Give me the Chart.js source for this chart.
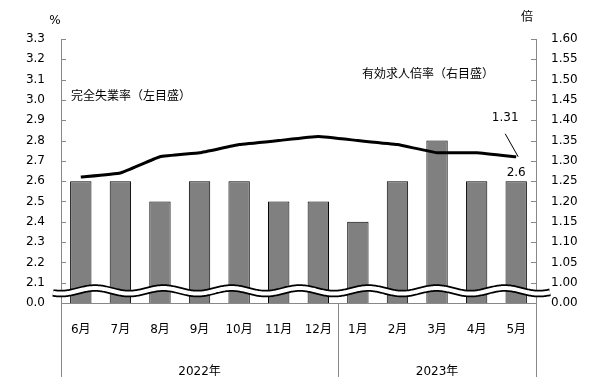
<!DOCTYPE html>
<html>
<head>
<meta charset="utf-8">
<script src="https://cdn.jsdelivr.net/npm/chart.js@4.4.0/dist/chart.umd.min.js"></script>
<style>
  body { margin: 0; background: #fff; }
</style>
</head>
<body>
<canvas id="chart" width="606" height="388"></canvas>
<script>
// data
const months = ['6月', '7月', '8月', '9月', '10月', '11月', '12月', '1月', '2月', '3月', '4月', '5月'];
const yearLabels = ['2022年', '2023年'];
const yearFirstIndex = [0, 7];
const unemployment = [2.6, 2.6, 2.5, 2.6, 2.6, 2.5, 2.5, 2.4, 2.6, 2.8, 2.6, 2.6];
const jobRatio = [1.26, 1.27, 1.31, 1.32, 1.34, 1.35, 1.36, 1.35, 1.34, 1.32, 1.32, 1.31];
// left axis 2.0..3.3 (2.0 shown as 0.0 after the break), right axis 0.95..1.60 (0.95 shown as 0.00)
const leftMin = 2.0, leftMax = 3.3, leftStep = 0.1;
const rightMin = 0.95, rightMax = 1.6, rightStep = 0.05;

const axisColor = '#888888';
const fontFamily = '"DejaVu Sans", "Noto Sans CJK JP", sans-serif';
Chart.defaults.font.family = fontFamily;
Chart.defaults.font.size = 12;
Chart.defaults.color = '#000';

const decor = {
  id: 'decor',
  afterDraw(chart) {
    const { ctx, chartArea: a, scales: { x, y, y1 } } = chart;
    ctx.save();
    ctx.strokeStyle = axisColor;
    ctx.lineWidth = 1;

    // inward tick marks
    ctx.beginPath();
    y.ticks.forEach(t => {
      const py = Math.round(y.getPixelForValue(t.value)) + 0.5;
      ctx.moveTo(a.left, py); ctx.lineTo(a.left + 5, py);
    });
    y1.ticks.forEach(t => {
      const py = Math.round(y1.getPixelForValue(t.value)) + 0.5;
      ctx.moveTo(a.right - 5, py); ctx.lineTo(a.right, py);
    });
    // year group separators below the axis
    const mid = (x.getPixelForValue(yearFirstIndex[1] - 1) + x.getPixelForValue(yearFirstIndex[1])) / 2;
    const seps = [a.left, mid, a.right];
    seps.forEach(sx => {
      const px = Math.round(sx) + 0.5;
      ctx.moveTo(px, a.bottom); ctx.lineTo(px, a.bottom + 74);
    });
    ctx.stroke();

    // year labels
    ctx.fillStyle = '#000';
    ctx.font = '12px ' + fontFamily;
    ctx.textAlign = 'center';
    ctx.textBaseline = 'middle';
    yearLabels.forEach((lab, i) => {
      ctx.fillText(lab, (seps[i] + seps[i + 1]) / 2, a.bottom + 69);
    });

    // units
    ctx.fillText('%', 55, 21);
    ctx.fillText('倍', 527, 18);

    // series captions
    ctx.textAlign = 'left';
    ctx.fillText('完全失業率（左目盛）', 71, 97);
    ctx.fillText('有効求人倍率（右目盛）', 362, 75);

    // data labels
    const bars = chart.getDatasetMeta(1).data;
    const lastBar = bars[bars.length - 1];
    ctx.textAlign = 'center';
    ctx.fillText(unemployment[unemployment.length - 1].toFixed(1), lastBar.x, lastBar.y - 8);

    const pts = chart.getDatasetMeta(0).data;
    const lastPt = pts[pts.length - 1];
    ctx.fillText(jobRatio[jobRatio.length - 1].toFixed(2), lastPt.x - 11, lastPt.y - 39);
    ctx.strokeStyle = '#000';
    ctx.lineWidth = 1;
    ctx.beginPath();
    ctx.moveTo(lastPt.x - 11, lastPt.y - 23);
    ctx.lineTo(lastPt.x + 2, lastPt.y);
    ctx.stroke();

    // axis break wave
    const yc = y.getPixelForValue(2.06);
    const amp = 2.8, period = 68.3, peakX = 95;
    const wave = () => {
      ctx.beginPath();
      for (let px = 53; px <= 550; px++) {
        const py = yc - amp * Math.cos(2 * Math.PI * (px - peakX) / period);
        if (px === 53) ctx.moveTo(px, py); else ctx.lineTo(px, py);
      }
    };
    ctx.lineCap = 'butt';
    wave(); ctx.strokeStyle = '#000'; ctx.lineWidth = 7.5; ctx.stroke();
    wave(); ctx.strokeStyle = '#fff'; ctx.lineWidth = 4; ctx.stroke();
    ctx.restore();
  }
};

new Chart(document.getElementById('chart'), {
  data: {
    labels: months,
    datasets: [
      {
        type: 'line',
        label: '有効求人倍率',
        data: jobRatio,
        yAxisID: 'y1',
        borderColor: '#000',
        borderWidth: 3,
        pointRadius: 0,
        tension: 0.1,
        order: 0
      },
      {
        type: 'bar',
        label: '完全失業率',
        data: unemployment,
        yAxisID: 'y',
        backgroundColor: '#808080',
        borderColor: '#000',
        borderWidth: 1,
        borderSkipped: false,
        categoryPercentage: 1,
        barPercentage: 0.54,
        order: 1
      }
    ]
  },
  options: {
    responsive: false,
    animation: false,
    layout: { padding: { top: 39, left: 0, right: 0, bottom: 0 } },
    plugins: { legend: { display: false }, tooltip: { enabled: false } },
    scales: {
      x: {
        grid: { display: false, drawTicks: false },
        border: { display: true, color: axisColor },
        ticks: { padding: 20, maxRotation: 0, autoSkip: false },
        afterFit: s => { s.height = 85; }
      },
      y: {
        position: 'left',
        min: leftMin,
        max: leftMax,
        grid: { drawOnChartArea: false, drawTicks: false },
        border: { display: true, color: axisColor },
        ticks: {
          stepSize: leftStep,
          padding: 16,
          callback: v => (v < leftMin + leftStep / 2 ? '0.0' : v.toFixed(1))
        },
        afterFit: s => { s.width = 61; }
      },
      y1: {
        position: 'right',
        min: rightMin,
        max: rightMax,
        grid: { drawOnChartArea: false, drawTicks: false },
        border: { display: true, color: axisColor },
        ticks: {
          stepSize: rightStep,
          padding: 15,
          callback: v => (v < rightMin + rightStep / 2 ? '0.00' : v.toFixed(2))
        },
        afterFit: s => { s.width = 70; }
      }
    }
  },
  plugins: [decor]
});
</script>
</body>
</html>
